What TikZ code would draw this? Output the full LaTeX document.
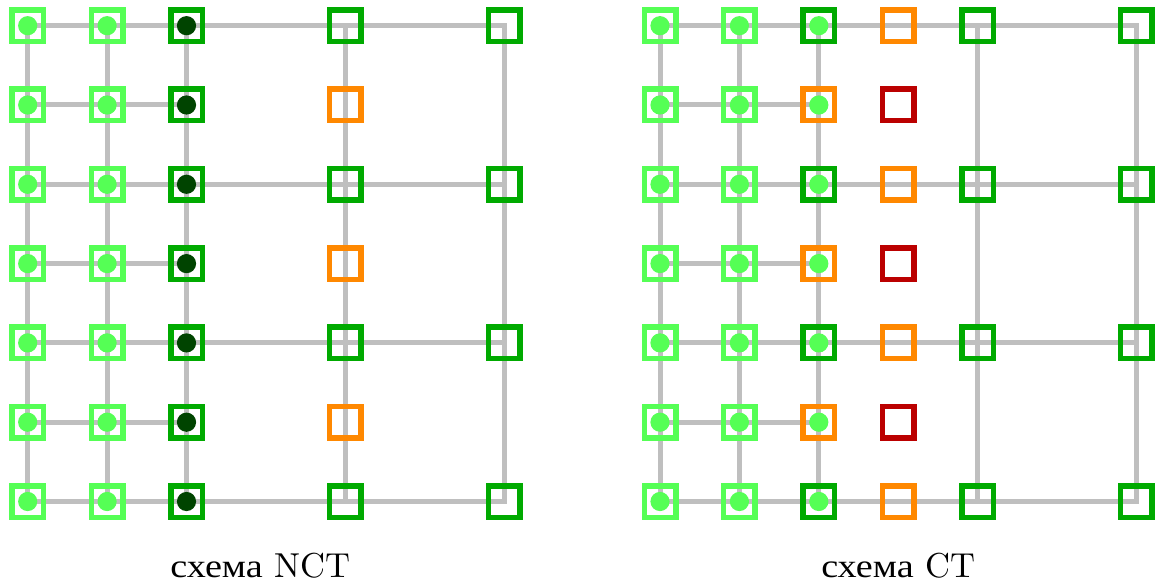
\documentclass[tikz,border=0pt]{standalone}
\usepackage{fontspec}
\setmainfont{lmroman10-regular}[Extension=.otf]
\newfontfamily\cyrserif{Liberation Serif}[Scale=0.96, FakeStretch=1.15]
\pgfdeclarelayer{back}
\pgfsetlayers{back,main}

\definecolor{lgreen}{RGB}{85,255,85}
\definecolor{mgreen}{RGB}{0,170,0}
\definecolor{dgreen}{RGB}{0,68,0}
\definecolor{orng}{RGB}{255,136,0}
\definecolor{dred}{RGB}{187,0,0}
\definecolor{wirec}{RGB}{191,191,191}

\tikzset{
  site/.style={shape=rectangle, draw=#1, line width=2.75pt,
    minimum size=15.75pt, inner sep=0pt, outer sep=0pt},
  withdot/.style={path picture={\fill[#1] (path picture bounding box.center) circle (4.8pt);}},
  wire/.style={draw=wirec, line width=2.5pt},
  caption/.style={anchor=base, inner sep=0pt, font=\fontsize{17.3}{20}\selectfont}
}

\begin{document}
\begin{tikzpicture}[x=39.7pt,y=39.65pt]
\useasboundingbox (-13.85pt,12.85pt) rectangle (564.15pt,-281.15pt);

% ---- left lattice: NCT scheme ----
\foreach \r in {0,...,6} {
  \node[site=lgreen, withdot=lgreen] (L-0-\r) at (0,-\r) {};
  \node[site=lgreen, withdot=lgreen] (L-1-\r) at (1,-\r) {};
  \node[site=mgreen, withdot=dgreen] (L-2-\r) at (2,-\r) {};
}
\foreach \r in {0,2,4,6} {
  \node[site=mgreen] (L-4-\r) at (4,-\r) {};
  \node[site=mgreen] (L-6-\r) at (6,-\r) {};
}
\foreach \r in {1,3,5}
  \node[site=orng] (L-4-\r) at (4,-\r) {};

\begin{pgfonlayer}{back}
  \draw[wire] (L-0-0.center) -- (L-6-0.center) -- (L-6-6.center) -- (L-0-6.center) -- cycle;
  \foreach \c in {1,2,4}
    \draw[wire] (L-\c-0.center) -- (L-\c-6.center);
  \foreach \r in {1,3,5}
    \draw[wire] (L-0-\r.center) -- (L-2-\r.center);
  \foreach \r in {2,4}
    \draw[wire] (L-0-\r.center) -- (L-6-\r.center);
\end{pgfonlayer}

\node[caption] (capL) at (2.93,-6.956) {{\cyrserif схема} NCT};

% ---- right lattice: CT scheme ----
\begin{scope}[xshift=316.15pt]
\foreach \r in {0,...,6} {
  \node[site=lgreen, withdot=lgreen] (R-0-\r) at (0,-\r) {};
  \node[site=lgreen, withdot=lgreen] (R-1-\r) at (1,-\r) {};
}
\foreach \r in {0,2,4,6} {
  \node[site=mgreen, withdot=lgreen] (R-2-\r) at (2,-\r) {};
  \node[site=orng] (R-3-\r) at (3,-\r) {};
  \node[site=mgreen] (R-4-\r) at (4,-\r) {};
  \node[site=mgreen] (R-6-\r) at (6,-\r) {};
}
\foreach \r in {1,3,5} {
  \node[site=orng, withdot=lgreen] (R-2-\r) at (2,-\r) {};
  \node[site=dred] (R-3-\r) at (3,-\r) {};
}

\begin{pgfonlayer}{back}
  \draw[wire] (R-0-0.center) -- (R-6-0.center) -- (R-6-6.center) -- (R-0-6.center) -- cycle;
  \foreach \c in {1,2,4}
    \draw[wire] (R-\c-0.center) -- (R-\c-6.center);
  \foreach \r in {1,3,5}
    \draw[wire] (R-0-\r.center) -- (R-2-\r.center);
  \foreach \r in {2,4}
    \draw[wire] (R-0-\r.center) -- (R-6-\r.center);
\end{pgfonlayer}

\node[caption] (capR) at (3,-6.956) {{\cyrserif схема} CT};
\end{scope}
\end{tikzpicture}
\end{document}
